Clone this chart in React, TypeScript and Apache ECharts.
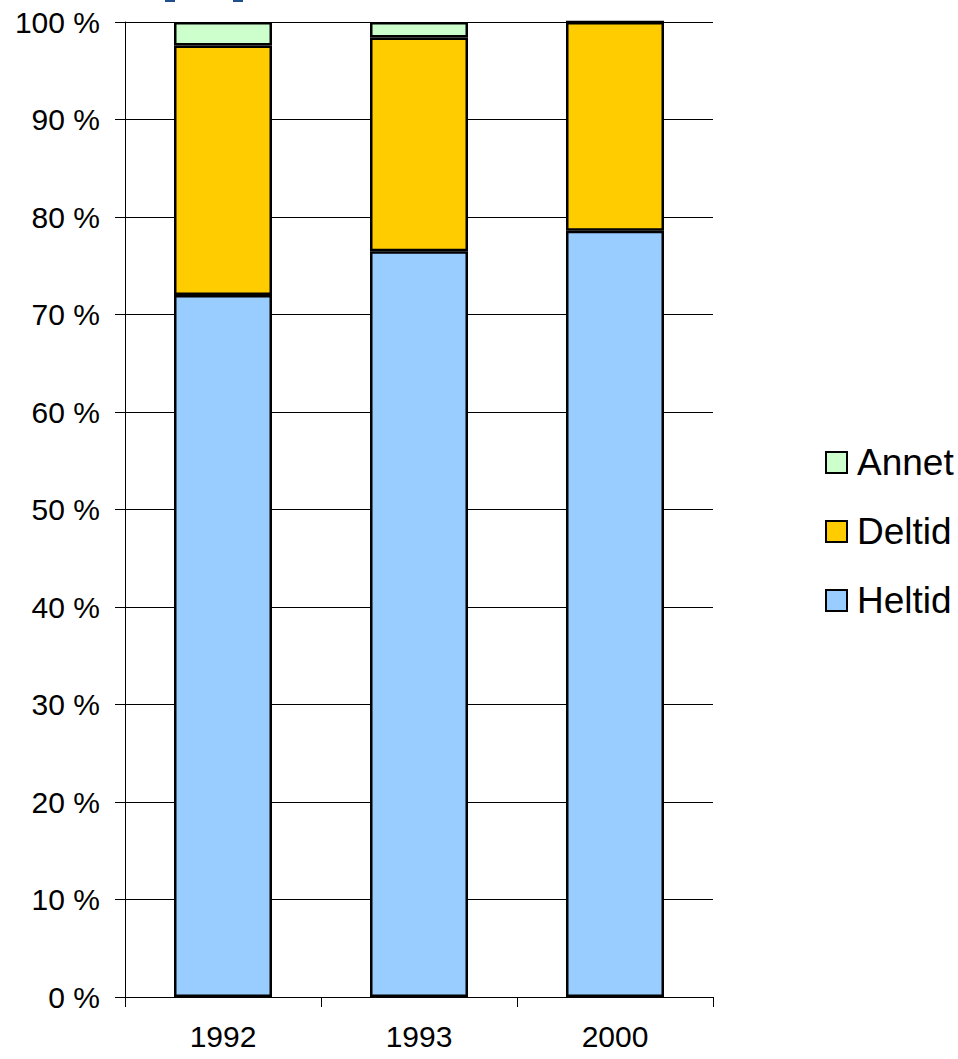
import React, { useEffect, useRef } from "react";
import * as echarts from "echarts";

// Stacked shares of employment type per year, in percent
const years = ["1992", "1993", "2000"];
const heltid = [72.0, 76.5, 78.6];
const deltid = [25.6, 21.9, 21.4];
const annet = [2.4, 1.6, 0];

const seriesNames = ["Heltid", "Deltid", "Annet"];
const seriesColors = ["#99CCFF", "#FFCC00", "#CCFFCC"];
const legendOrder = ["Annet", "Deltid", "Heltid"];

const FONT = "'Liberation Sans', Arial, Helvetica, sans-serif";

export default function App() {
  const ref = useRef<HTMLDivElement>(null);

  useEffect(() => {
    if (!ref.current) return;
    const chart = echarts.init(ref.current, undefined, { renderer: "svg" });
    const values = [heltid, deltid, annet];

    chart.setOption({
      animation: false,
      backgroundColor: "#ffffff",
      textStyle: { fontFamily: FONT },
      grid: { left: 125, right: 245, top: 22, bottom: 62, containLabel: false },
      legend: {
        orient: "vertical",
        left: 825,
        top: 444,
        padding: 0,
        data: legendOrder,
        icon: "rect",
        itemWidth: 21,
        itemHeight: 21,
        itemGap: 32,
        itemStyle: { borderColor: "#000", borderWidth: 2 },
        textStyle: {
          fontFamily: FONT,
          fontSize: 37,
          lineHeight: 37,
          color: "#000",
          padding: [0, 0, 0, 5],
        },
      },
      xAxis: {
        type: "category",
        data: years,
        boundaryGap: true,
        axisLine: { show: true, lineStyle: { color: "#000", width: 1 } },
        axisTick: {
          show: true,
          alignWithLabel: false,
          interval: 0,
          length: 10,
          lineStyle: { color: "#000", width: 1 },
        },
        axisLabel: {
          fontFamily: FONT,
          fontSize: 30,
          color: "#000",
          margin: 24,
        },
        splitLine: { show: false },
      },
      yAxis: {
        type: "value",
        min: 0,
        max: 100,
        interval: 10,
        axisLine: { show: true, lineStyle: { color: "#000", width: 1 } },
        axisTick: { show: true, length: 10, lineStyle: { color: "#000", width: 1 } },
        axisLabel: {
          formatter: "{value} %",
          fontFamily: FONT,
          fontSize: 30,
          color: "#000",
          margin: 25,
        },
        splitLine: { show: true, lineStyle: { color: "#000", width: 1 } },
      },
      series: seriesNames.map((name, i) => ({
        name,
        type: "bar",
        stack: "share",
        barWidth: "50%",
        data: values[i],
        itemStyle: { color: seriesColors[i], borderColor: "#000", borderWidth: 2.5 },
      })),
      graphic: [
        { type: "rect", shape: { x: 165, y: 0, width: 10, height: 2 }, style: { fill: "#1F4E8C" } },
        { type: "rect", shape: { x: 233, y: 0, width: 10, height: 2 }, style: { fill: "#1F4E8C" } },
      ],
    });

    return () => chart.dispose();
  }, []);

  return (
    <div
      ref={ref}
      style={{ position: "fixed", left: 0, top: 0, width: 958, height: 1059 }}
    />
  );
}
